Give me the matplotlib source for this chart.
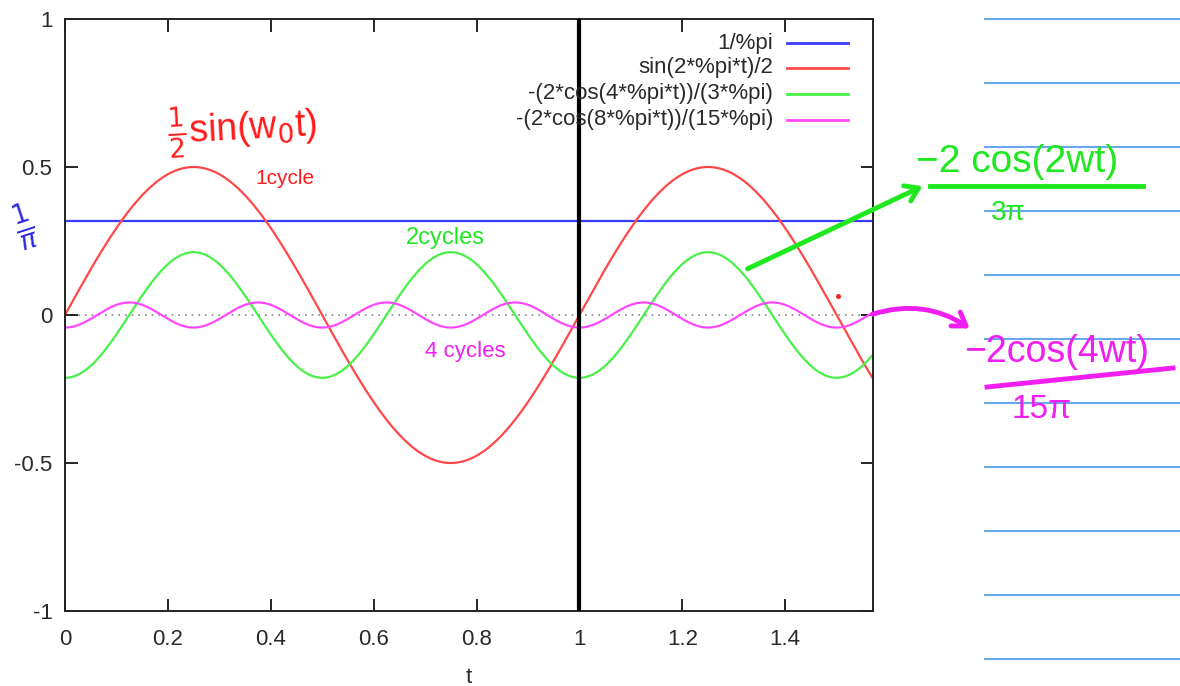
import numpy as np
import matplotlib
matplotlib.use("Agg")
import matplotlib.pyplot as plt
from matplotlib.lines import Line2D
from matplotlib.patches import FancyArrowPatch

plt.rcParams["font.family"] = ["Liberation Sans", "DejaVu Sans"]

# Fourier terms of the half-wave rectified sine, as plotted
series_labels = ["1/%pi", "sin(2*%pi*t)/2",
                 "-(2*cos(4*%pi*t))/(3*%pi)", "-(2*cos(8*%pi*t))/(15*%pi)"]
series_colors = ["#3a3aff", "#ff4848", "#48f048", "#ff48ff"]
series_funcs = [
    lambda t: np.full_like(t, 1 / np.pi),
    lambda t: np.sin(2 * np.pi * t) / 2,
    lambda t: -(2 * np.cos(4 * np.pi * t)) / (3 * np.pi),
    lambda t: -(2 * np.cos(8 * np.pi * t)) / (15 * np.pi),
]
t_range = (0.0, np.pi / 2)
x_ticks = [0, 0.2, 0.4, 0.6, 0.8, 1, 1.2, 1.4]
x_tick_labels = ["0", "0.2", "0.4", "0.6", "0.8", "1", "1.2", "1.4"]
y_ticks = [-1, -0.5, 0, 0.5, 1]
y_tick_labels = ["-1", "-0.5", "0", "0.5", "1"]
marker_t = 1.0

W, H = 1180, 686
fig = plt.figure(figsize=(W / 100, H / 100), dpi=100)


def fx(px):
    return px / W


def fy(py):
    return 1 - py / H


ax = fig.add_axes([fx(65), fy(611), (873 - 65) / W, (611 - 19) / H])
t = np.linspace(t_range[0], t_range[1], 800)

ax.axhline(0, color="#888888", lw=1.2, ls=(0, (1, 3)), zorder=1)
for f, c in zip(series_funcs, series_colors):
    ax.plot(t, f(t), color=c, lw=1.6, zorder=2)
ax.axvline(marker_t, color="black", lw=3, zorder=6)

ax.set_xlim(*t_range)
ax.set_ylim(-1, 1)
ax.set_xticks(x_ticks)
ax.set_xticklabels(x_tick_labels)
ax.set_yticks(y_ticks)
ax.set_yticklabels(y_tick_labels)
ax.tick_params(direction="in", length=9, width=1.2, top=True, right=True,
               labelsize=16, labelcolor="#2a2a2a")
ax.tick_params(axis="x", pad=13)
ax.tick_params(axis="y", pad=9)
for s in ax.spines.values():
    s.set_linewidth(1.4)
    s.set_color("#222222")
ax.set_xlabel("t", fontsize=16, color="#2a2a2a", labelpad=12)

# key in the upper right, text right-aligned before the line sample
row_y = [43, 68, 94, 120]
for lab, c, ry in zip(series_labels, series_colors, row_y):
    fig.text(fx(773), fy(ry), lab, ha="right", va="center", fontsize=16,
             color="#2a2a2a", zorder=3)
    fig.add_artist(Line2D([fx(787), fx(848)], [fy(ry), fy(ry)], color=c,
                          lw=2, zorder=3))

# ruled notebook lines on the right
for k in range(11):
    yy = 19 + 64 * k
    fig.add_artist(Line2D([fx(985), fx(1180)], [fy(yy), fy(yy)],
                          color="#6aa8ee", lw=1.5))

# handwritten notes
red, green, mag, blue = "#ff1a1a", "#1ee81e", "#f01ef0", "#2a2ae0"
fig.text(fx(166), fy(130), r"$\frac{1}{2}$sin(w$_0$t)", color=red,
         fontsize=27, ha="left", va="center", rotation=3)
fig.text(fx(255), fy(178), "1cycle", color=red, fontsize=15,
         ha="left", va="center")
fig.text(fx(24), fy(226), r"$\frac{1}{\pi}$", color=blue, fontsize=28,
         ha="center", va="center", rotation=18)
fig.text(fx(406), fy(238), "2cycles", color=green, fontsize=17,
         ha="left", va="center")
fig.text(fx(425), fy(352), "4 cycles", color=mag, fontsize=16,
         ha="left", va="center")

fig.text(fx(916), fy(162), "−2 cos(2wt)", color=green, fontsize=28,
         ha="left", va="center")
fig.add_artist(Line2D([fx(930), fx(1143)], [fy(186), fy(186)], color=green,
                      lw=3.5))
fig.text(fx(1008), fy(213), "3π", color=green, fontsize=20,
         ha="center", va="center")
fig.add_artist(FancyArrowPatch((fx(745), fy(270)), (fx(925), fy(185)),
                               transform=fig.transFigure, color=green,
                               lw=3.5, arrowstyle="->,head_length=9,head_width=6"))

fig.text(fx(964), fy(352), "−2cos(4wt)", color=mag, fontsize=27,
         ha="left", va="center")
fig.add_artist(Line2D([fx(987), fx(1173)], [fy(387), fy(368)], color=mag,
                      lw=3.5))
fig.text(fx(1042), fy(410), "15π", color=mag, fontsize=24,
         ha="center", va="center")
fig.add_artist(FancyArrowPatch((fx(870), fy(315)), (fx(972), fy(330)),
                               transform=fig.transFigure, color=mag,
                               lw=3.5, connectionstyle="arc3,rad=-0.25",
                               arrowstyle="->,head_length=9,head_width=6"))
fig.add_artist(Line2D([fx(838)], [fy(296)], marker="o", ms=2.5, color=red,
                      lw=0))

fig.savefig("out.png", dpi=100)
